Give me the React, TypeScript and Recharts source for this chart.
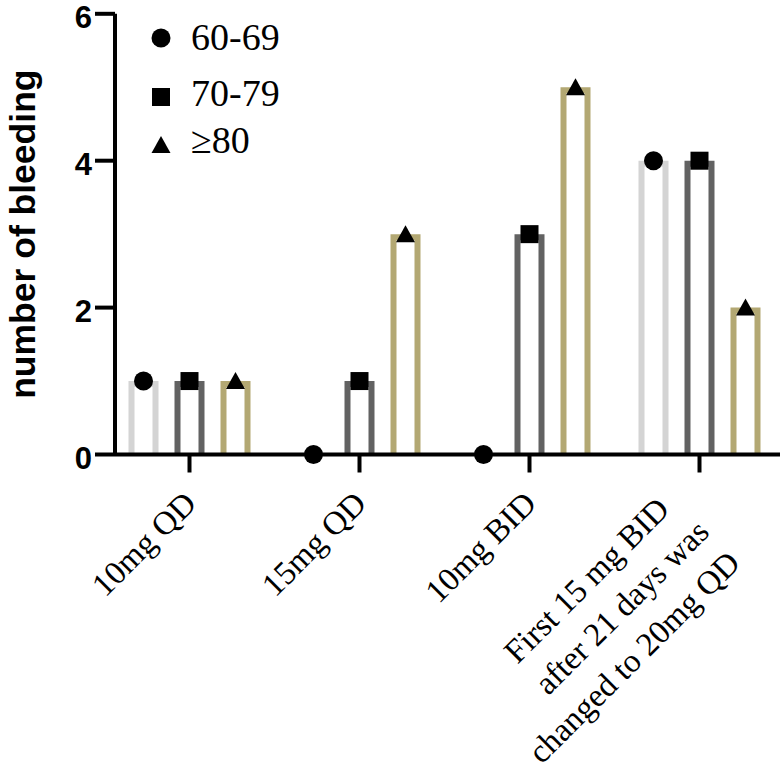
import { BarChart, Bar, XAxis, YAxis, Legend } from "recharts";

const categories = [
  "10mg QD",
  "15mg QD",
  "10mg BID",
  "First 15 mg BID\nafter 21 days was\nchanged to 20mg QD",
];
const age60to69 = [1, 0, 0, 4];
const age70to79 = [1, 1, 3, 4];
const age80plus = [1, 3, 5, 2];
const seriesNames = ["60-69", "70-79", "≥80"];
const yTicks = [0, 2, 4, 6];

const seriesColors = ["#d4d4d4", "#626262", "#b3a873"];
const markerTypes = ["circle", "square", "triangle"];
const legendMarkerY = [38, 97, 145];
const legendTextY = [50, 106, 153];

const data = categories.map((name, i) => ({
  name,
  a: age60to69[i],
  b: age70to79[i],
  c: age80plus[i],
}));

const Marker = ({ type, cx, cy, size = 18 }: any) => {
  const h = size / 2;
  if (type === "circle") return <circle cx={cx} cy={cy} r={h + 0.5} fill="#000" />;
  if (type === "square")
    return <rect x={cx - h} y={cy - h} width={size} height={size} fill="#000" />;
  return (
    <polygon
      points={`${cx - h - 0.5},${cy + h - 1} ${cx + h + 0.5},${cy + h - 1} ${cx},${cy - h}`}
      fill="#000"
    />
  );
};

// hollow bar: stroke drawn inside the bar outline, marker on top
const makeShape = (color: string, marker: string) => (props: any) => {
  const { x, y, width, height } = props;
  const sw = 6;
  return (
    <g>
      {height > 0 && (
        <path
          d={`M${x + sw / 2},${y + height} V${y + sw / 2} H${x + width - sw / 2} V${y + height}`}
          fill="#fff"
          stroke={color}
          strokeWidth={sw}
        />
      )}
      <Marker type={marker} cx={x + width / 2} cy={y} />
    </g>
  );
};

const YTick = ({ x, y, payload }: any) => (
  <text
    x={x - 1}
    y={y + 14.5}
    textAnchor="end"
    fontFamily="'Liberation Sans', Arial, sans-serif"
    fontWeight="bold"
    fontSize={31}
    fill="#000"
  >
    {payload.value}
  </text>
);

const XTick = ({ x, y, payload }: any) => {
  const lines = String(payload.value).split("\n");
  const extra = lines.length - 1;
  return (
    <g transform={`translate(${x},${y - 20}) rotate(-45)`}>
      <text
        textAnchor="end"
        fontFamily="'Liberation Serif', 'Times New Roman', serif"
        fontSize={33}
        fill="#000"
      >
        {lines.map((line, i) => (
          <tspan
            key={i}
            x={-30 + 4 * (extra > 0 ? 1 : 0) - 11 * extra - (extra > 0 && i === 0 ? 12 : 0)}
            y={42 - 11 * extra + i * 44}
          >
            {line}
          </tspan>
        ))}
      </text>
    </g>
  );
};

const YLabel = ({ viewBox }: any) => {
  const cx = viewBox.x + 35;
  const cy = viewBox.y + viewBox.height / 2;
  return (
    <text
      x={cx}
      y={cy}
      transform={`rotate(-90,${cx},${cy})`}
      textAnchor="middle"
      fontFamily="'Liberation Sans', Arial, sans-serif"
      fontWeight="bold"
      fontSize={35.5}
      fill="#000"
    >
      number of bleeding
    </text>
  );
};

const LegendBox = () => (
  <svg width={320} height={170}>
    {seriesNames.map((name, i) => (
      <g key={name}>
        <Marker type={markerTypes[i]} cx={161} cy={legendMarkerY[i]} />
        <text
          x={191}
          y={legendTextY[i]}
          fontFamily="'Liberation Serif', 'Times New Roman', serif"
          fontSize={38}
          fill="#000"
        >
          {name}
        </text>
      </g>
    ))}
  </svg>
);

export default function App() {
  const keys = ["a", "b", "c"];
  return (
    <div style={{ position: "absolute", left: 0, top: 0, width: 780, height: 773, background: "#fff" }}>
      <BarChart
        width={780}
        height={773}
        data={data}
        margin={{ top: 13.8, right: 0, bottom: 0, left: 0 }}
        barSize={30}
        barGap={16}
      >
        <XAxis
          dataKey="name"
          interval={0}
          height={318.5}
          tickSize={18}
          tickMargin={2}
          padding={{ left: -10.5, right: -4.5 }}
          axisLine={{ stroke: "#000", strokeWidth: 4 }}
          tickLine={{ stroke: "#000", strokeWidth: 4 }}
          tick={<XTick />}
        />
        <YAxis
          width={115}
          domain={[0, 6]}
          ticks={yTicks}
          tickSize={20}
          tickMargin={2}
          axisLine={{ stroke: "#000", strokeWidth: 4 }}
          tickLine={{ stroke: "#000", strokeWidth: 4 }}
          tick={<YTick />}
          label={{ content: <YLabel /> } as any}
        />
        <Legend
          layout="vertical"
          align="center"
          verticalAlign="middle"
          wrapperStyle={{ left: 0, top: 0, width: 320, height: 170 }}
          content={<LegendBox />}
        />
        {keys.map((k, i) => (
          <Bar
            key={k}
            dataKey={k}
            name={seriesNames[i]}
            fill={seriesColors[i]}
            isAnimationActive={false}
            shape={makeShape(seriesColors[i], markerTypes[i])}
          />
        ))}
      </BarChart>
    </div>
  );
}
